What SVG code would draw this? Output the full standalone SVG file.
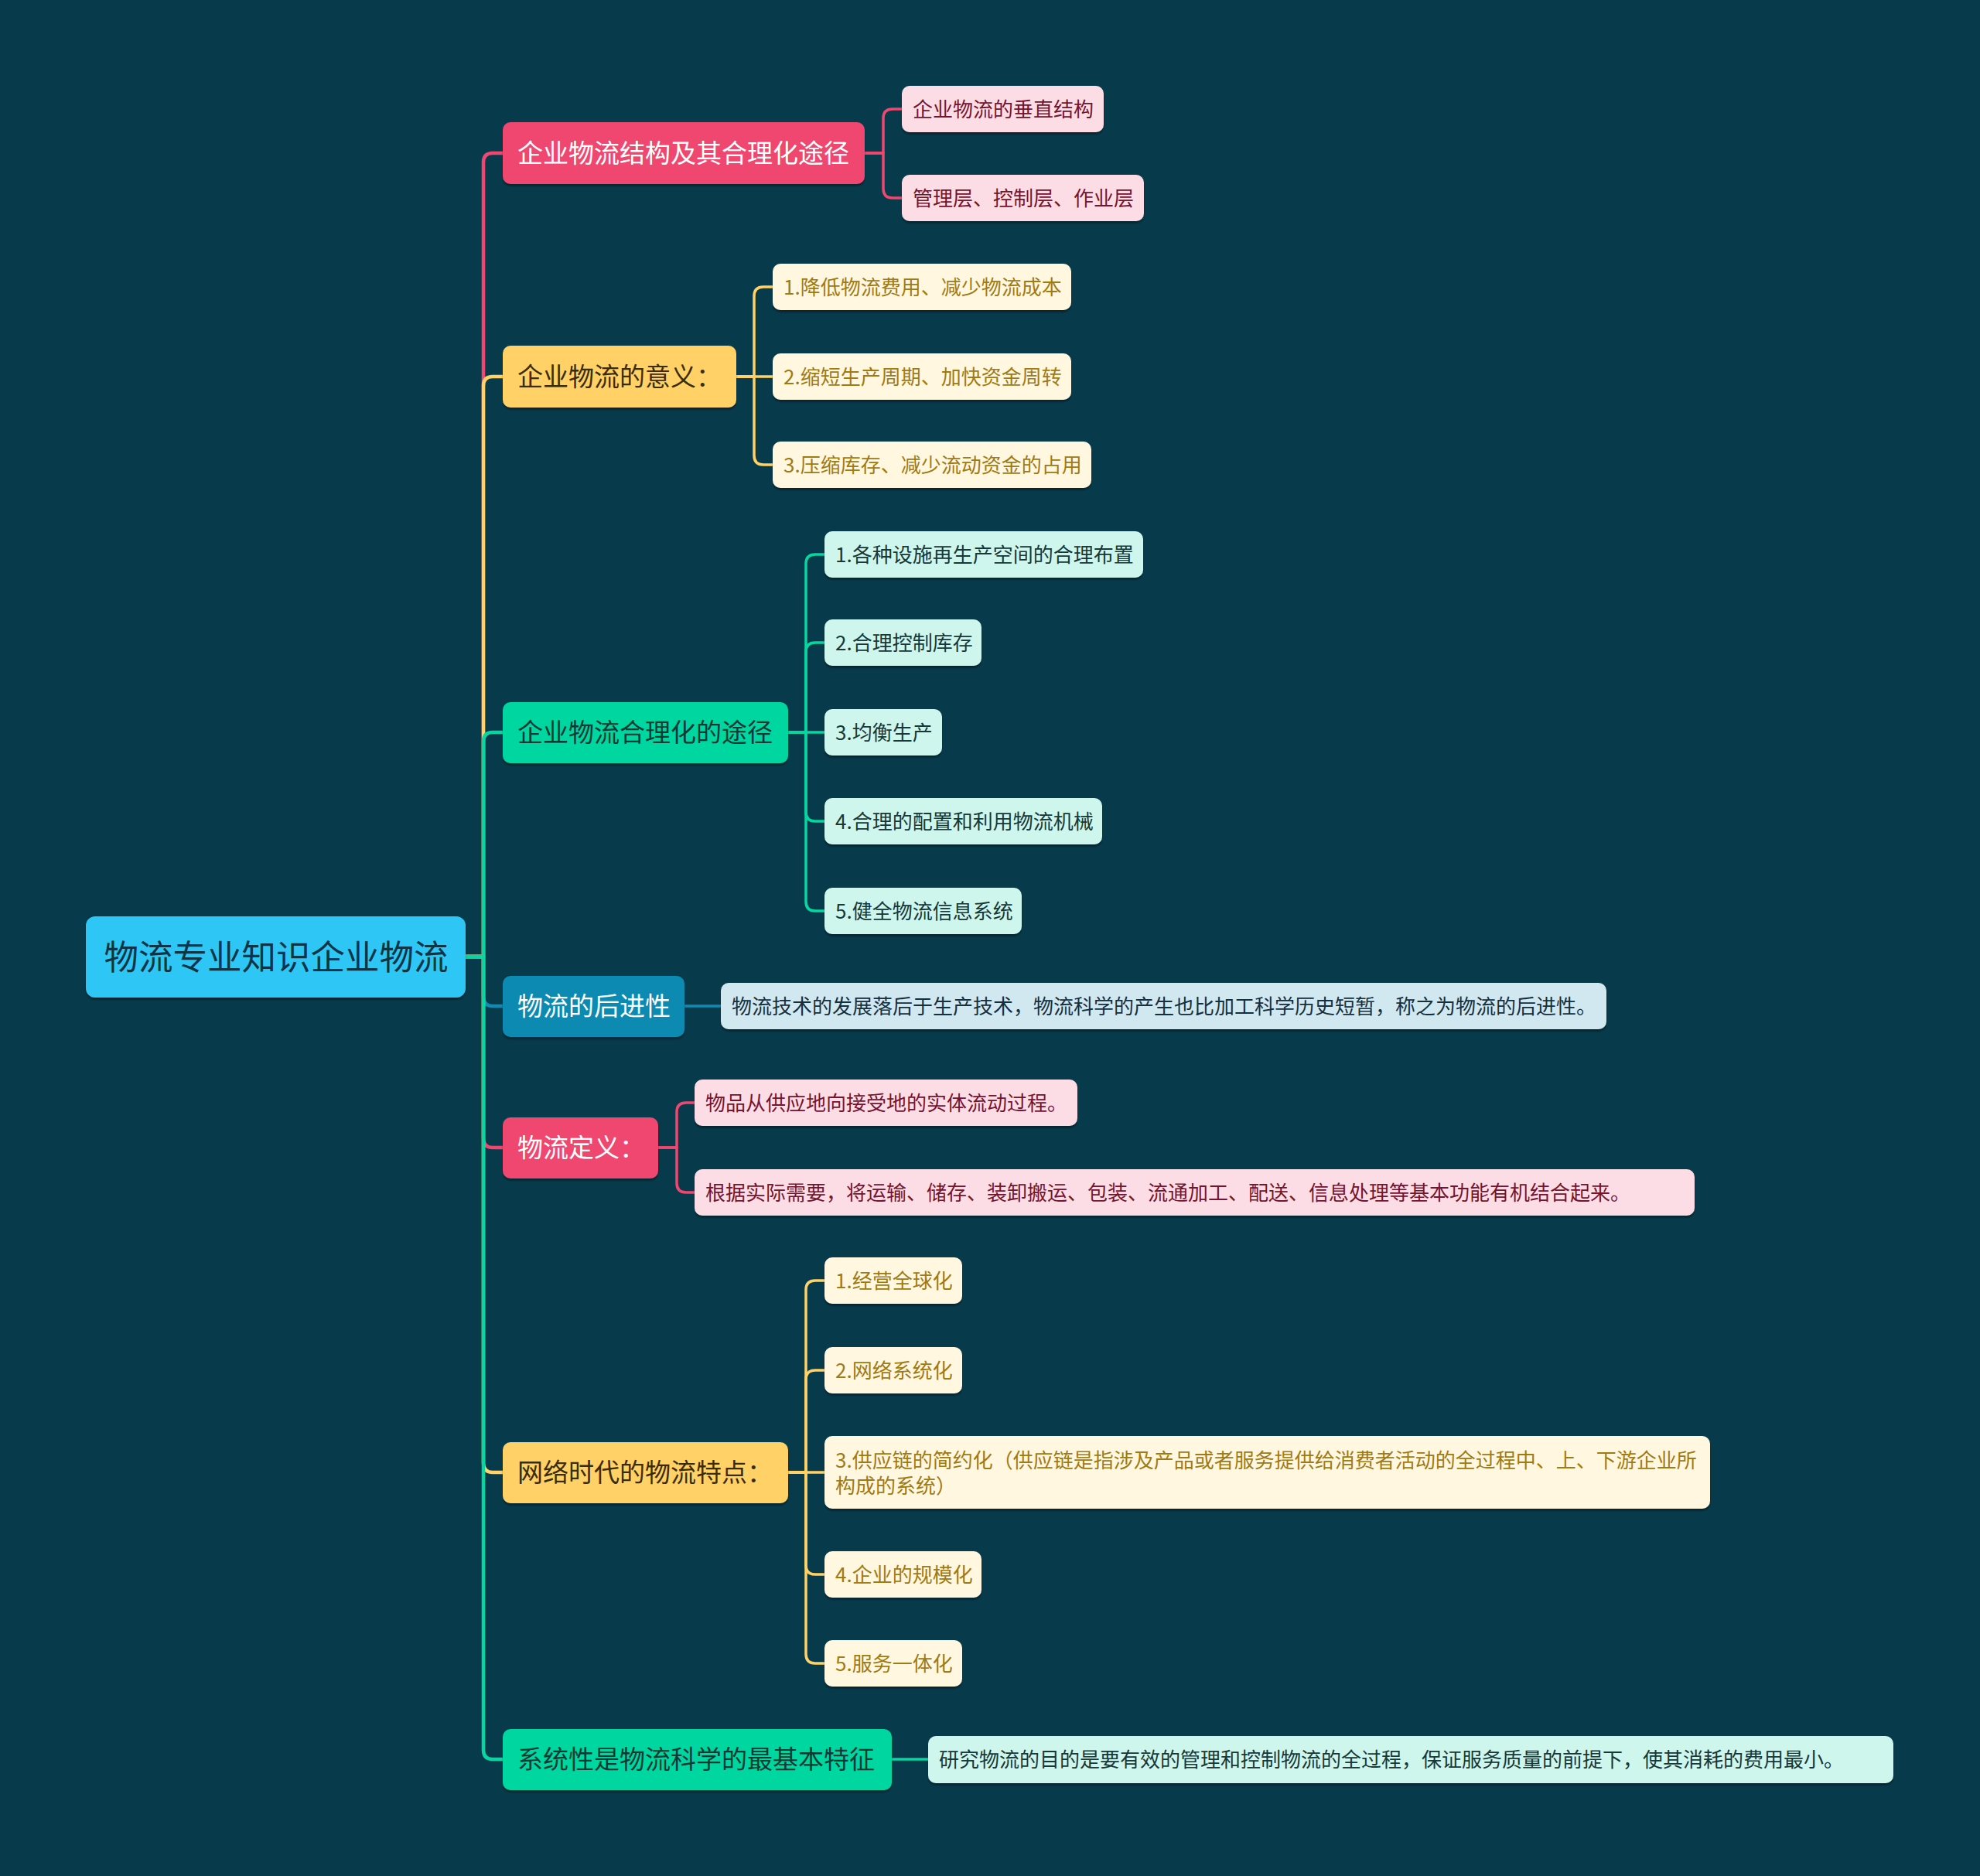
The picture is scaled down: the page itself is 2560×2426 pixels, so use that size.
<svg xmlns="http://www.w3.org/2000/svg" width="2560" height="2426" viewBox="0 0 2560 2426">
<defs>
<filter id="sh" x="-5%" y="-20%" width="110%" height="150%">
<feDropShadow dx="0" dy="3" stdDeviation="1.2" flood-color="#000" flood-opacity="0.35"/>
</filter>
<style>
text{font-family:"Noto Sans CJK SC","Liberation Sans",sans-serif;dominant-baseline:central}
.root rect{fill:#2EC6F5}
.root text{font-size:44.5px;fill:#0E3546;text-anchor:middle}
.l1 text{font-size:33px}
.l2 text{font-size:26px}
.pk>rect{fill:#EF476F}.pk>text{fill:#FFFFFF}
.yl>rect{fill:#FFD166}.yl>text{fill:#3A2C05}
.gn>rect{fill:#06D6A0}.gn>text{fill:#0A3A33}
.bl>rect{fill:#118AB2}.bl>text{fill:#FFFFFF}
.pkl>rect{fill:#FDDDE5}.pkl>text{fill:#74142E}
.yll>rect{fill:#FFF7E0}.yll>text{fill:#A07A12}
.gnl>rect{fill:#CFF6EC}.gnl>text{fill:#163838}
.bll>rect{fill:#D2E8F0}.bll>text{fill:#14303F}
rect{filter:url(#sh)}
.c{fill:none;stroke-linecap:round;stroke-linejoin:round}
.t{stroke-width:4.5}
.s{stroke-width:3.5}
.cp{stroke:#EF476F}.cy{stroke:#FFD166}.cg{stroke:#06D6A0}.cb{stroke:#118AB2}
</style>
</defs>
<rect x="0" y="0" width="2560" height="2426" fill="#073B4C" style="filter:none"/>

<g id="connectors">
<path class="c t cp" d="M602,1237 H625 V210 Q625,198 637,198 H650"/>
<path class="c t cy" d="M602,1237 H625 V499 Q625,487 637,487 H650"/>
<path class="c t cg" d="M602,1237 H625 V959 Q625,947 637,947 H650"/>
<path class="c t cb" d="M602,1237 H625 V1289 Q625,1301 637,1301 H650"/>
<path class="c t cp" d="M602,1237 H625 V1472 Q625,1484 637,1484 H650"/>
<path class="c t cy" d="M602,1237 H625 V1892 Q625,1904 637,1904 H650"/>
<path class="c t cg" d="M602,1237 H625 V2263 Q625,2275 637,2275 H650"/>

<path class="c s cp" d="M1118,198 H1142 V153 Q1142,141 1154,141 H1166"/>
<path class="c s cp" d="M1118,198 H1142 V244 Q1142,256 1154,256 H1166"/>

<path class="c s cy" d="M952,487 H975 V383 Q975,371 987,371 H999"/>
<path class="c s cy" d="M952,487 H999"/>
<path class="c s cy" d="M952,487 H975 V589 Q975,601 987,601 H999"/>

<path class="c s cg" d="M1019,947 H1042 V729 Q1042,717 1054,717 H1066"/>
<path class="c s cg" d="M1019,947 H1042 V843 Q1042,831 1054,831 H1066"/>
<path class="c s cg" d="M1019,947 H1066"/>
<path class="c s cg" d="M1019,947 H1042 V1050 Q1042,1062 1054,1062 H1066"/>
<path class="c s cg" d="M1019,947 H1042 V1166 Q1042,1178 1054,1178 H1066"/>

<path class="c s cb" d="M885,1301 H932"/>

<path class="c s cp" d="M851,1484 H875 V1438 Q875,1426 887,1426 H898"/>
<path class="c s cp" d="M851,1484 H875 V1530 Q875,1542 887,1542 H898"/>

<path class="c s cy" d="M1019,1904 H1042 V1668 Q1042,1656 1054,1656 H1066"/>
<path class="c s cy" d="M1019,1904 H1042 V1784 Q1042,1772 1054,1772 H1066"/>
<path class="c s cy" d="M1019,1904 H1066"/>
<path class="c s cy" d="M1019,1904 H1042 V2024 Q1042,2036 1054,2036 H1066"/>
<path class="c s cy" d="M1019,1904 H1042 V2139 Q1042,2151 1054,2151 H1066"/>

<path class="c s cg" d="M1153,2275 H1200"/>
</g>

<g id="root" class="root"><rect x="111" y="1185" width="491" height="105" rx="12"/><text x="357" y="1234">物流专业知识企业物流</text></g>

<g id="n1" class="l1 pk"><rect x="650" y="158" width="468" height="80" rx="10"/><text x="669" y="196">企业物流结构及其合理化途径</text></g>
<g id="n1a" class="l2 pkl"><rect x="1166" y="111" width="261" height="60" rx="10"/><text x="1180" y="139">企业物流的垂直结构</text></g>
<g id="n1b" class="l2 pkl"><rect x="1166" y="226" width="313" height="60" rx="10"/><text x="1180" y="254">管理层、控制层、作业层</text></g>

<g id="n2" class="l1 yl"><rect x="650" y="447" width="302" height="80" rx="10"/><text x="669" y="485">企业物流的意义：</text></g>
<g id="n2a" class="l2 yll"><rect x="999" y="341" width="386" height="60" rx="10"/><text x="1013" y="369">1.降低物流费用、减少物流成本</text></g>
<g id="n2b" class="l2 yll"><rect x="999" y="457" width="386" height="60" rx="10"/><text x="1013" y="485">2.缩短生产周期、加快资金周转</text></g>
<g id="n2c" class="l2 yll"><rect x="999" y="571" width="412" height="60" rx="10"/><text x="1013" y="599">3.压缩库存、减少流动资金的占用</text></g>

<g id="n3" class="l1 gn"><rect x="650" y="908" width="369" height="79" rx="10"/><text x="669" y="945">企业物流合理化的途径</text></g>
<g id="n3a" class="l2 gnl"><rect x="1066" y="687" width="412" height="60" rx="10"/><text x="1080" y="715">1.各种设施再生产空间的合理布置</text></g>
<g id="n3b" class="l2 gnl"><rect x="1066" y="801" width="203" height="60" rx="10"/><text x="1080" y="829">2.合理控制库存</text></g>
<g id="n3c" class="l2 gnl"><rect x="1066" y="917" width="152" height="60" rx="10"/><text x="1080" y="945">3.均衡生产</text></g>
<g id="n3d" class="l2 gnl"><rect x="1066" y="1032" width="359" height="60" rx="10"/><text x="1080" y="1060">4.合理的配置和利用物流机械</text></g>
<g id="n3e" class="l2 gnl"><rect x="1066" y="1148" width="255" height="60" rx="10"/><text x="1080" y="1176">5.健全物流信息系统</text></g>

<g id="n4" class="l1 bl"><rect x="650" y="1262" width="235" height="79" rx="10"/><text x="669" y="1299">物流的后进性</text></g>
<g id="n4a" class="l2 bll"><rect x="932" y="1271" width="1145" height="60" rx="10"/><text x="946" y="1299">物流技术的发展落后于生产技术，物流科学的产生也比加工科学历史短暂，称之为物流的后进性。</text></g>

<g id="n5" class="l1 pk"><rect x="650" y="1445" width="201" height="79" rx="10"/><text x="669" y="1482">物流定义：</text></g>
<g id="n5a" class="l2 pkl"><rect x="898" y="1396" width="495" height="60" rx="10"/><text x="912" y="1424">物品从供应地向接受地的实体流动过程。</text></g>
<g id="n5b" class="l2 pkl"><rect x="898" y="1512" width="1293" height="60" rx="10"/><text x="912" y="1540">根据实际需要，将运输、储存、装卸搬运、包装、流通加工、配送、信息处理等基本功能有机结合起来。</text></g>

<g id="n6" class="l1 yl"><rect x="650" y="1865" width="369" height="79" rx="10"/><text x="669" y="1902">网络时代的物流特点：</text></g>
<g id="n6a" class="l2 yll"><rect x="1066" y="1626" width="178" height="60" rx="10"/><text x="1080" y="1654">1.经营全球化</text></g>
<g id="n6b" class="l2 yll"><rect x="1066" y="1742" width="178" height="60" rx="10"/><text x="1080" y="1770">2.网络系统化</text></g>
<g id="n6c" class="l2 yll"><rect x="1066" y="1857" width="1145" height="94" rx="10"/><text x="1080" y="1886">3.供应链的简约化（供应链是指涉及产品或者服务提供给消费者活动的全过程中、上、下游企业所</text><text x="1080" y="1919">构成的系统）</text></g>
<g id="n6d" class="l2 yll"><rect x="1066" y="2006" width="203" height="60" rx="10"/><text x="1080" y="2034">4.企业的规模化</text></g>
<g id="n6e" class="l2 yll"><rect x="1066" y="2121" width="178" height="60" rx="10"/><text x="1080" y="2149">5.服务一体化</text></g>

<g id="n7" class="l1 gn"><rect x="650" y="2236" width="503" height="79" rx="10"/><text x="669" y="2273">系统性是物流科学的最基本特征</text></g>
<g id="n7a" class="l2 gnl"><rect x="1200" y="2245" width="1248" height="61" rx="10"/><text x="1214" y="2273">研究物流的目的是要有效的管理和控制物流的全过程，保证服务质量的前提下，使其消耗的费用最小。</text></g>
</svg>
